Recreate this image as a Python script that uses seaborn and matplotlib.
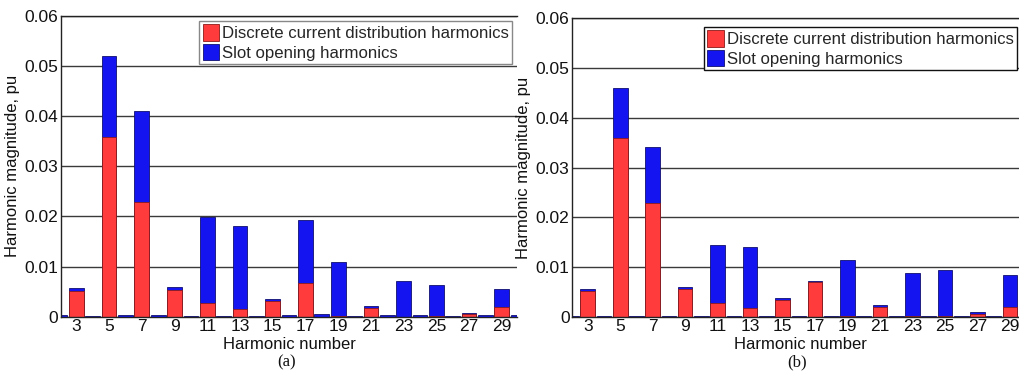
import numpy as np
import pandas as pd
import matplotlib
matplotlib.use("Agg")
import matplotlib.pyplot as plt
import seaborn as sns
from matplotlib.patches import Patch

sns.set_theme(style="white")
plt.rcParams['font.family'] = ['Liberation Sans', 'DejaVu Sans']

harmonics = list(range(2, 31))

# Panel (a): discrete current distribution (red) and slot opening (blue) components
red_a = [0, 0.0052, 0, 0.0359, 0, 0.0228, 0, 0.0054, 0, 0.0027, 0, 0.0015, 0, 0.0031, 0,
         0.0068, 0, 0.0001, 0, 0.0017, 0, 0.0000, 0, 0.0002, 0, 0.0005, 0, 0.0019, 0]
blue_a = [0.0004, 0.0005, 0.0002, 0.0160, 0.0003, 0.0183, 0.0004, 0.0006, 0.0002, 0.0172,
          0.0002, 0.0165, 0.0002, 0.0005, 0.0003, 0.0124, 0.0005, 0.0109, 0.0002, 0.0004,
          0.0003, 0.0072, 0.0003, 0.0061, 0.0002, 0.0003, 0.0003, 0.0036, 0.0003]

# Panel (b)
red_b = [0, 0.0052, 0, 0.0360, 0, 0.0228, 0, 0.0056, 0, 0.0028, 0, 0.0017, 0, 0.0033, 0,
         0.0070, 0, 0.0001, 0, 0.0019, 0, 0.0001, 0, 0.0002, 0, 0.0005, 0, 0.0020, 0]
blue_b = [0.0002, 0.0004, 0.0002, 0.0099, 0.0002, 0.0113, 0.0002, 0.0004, 0.0002, 0.0116,
          0.0002, 0.0124, 0.0002, 0.0004, 0.0002, 0.0002, 0.0002, 0.0114, 0.0002, 0.0004,
          0.0002, 0.0086, 0.0002, 0.0092, 0.0002, 0.0004, 0.0002, 0.0064, 0.0002]

xticks = [3, 5, 7, 9, 11, 13, 15, 17, 19, 21, 23, 25, 27, 29]
yticks = [0, 0.01, 0.02, 0.03, 0.04, 0.05, 0.06]
ytick_labels = ["0", "0.01", "0.02", "0.03", "0.04", "0.05", "0.06"]
legend_labels = ["Discrete current distribution harmonics", "Slot opening harmonics"]

RED = "#ff3b3b"
BLUE = "#1414f0"
RED_EDGE = "#8a1a1a"
BLUE_EDGE = "#101070"

W, H = 1019, 376
fig = plt.figure(figsize=(W / 100, H / 100), dpi=100)

panels = [
    dict(red=red_a, blue=blue_a, rect=[61 / W, 59.3 / H, 456 / W, 301 / H], xlim=(2.06, 29.93),
         leg=(0.303, 0.983), legedge="#888888", cap="(a)", capx=287 / W),
    dict(red=red_b, blue=blue_b, rect=[572.3 / W, 59.3 / H, 456 / W, 298.4 / H], xlim=(2.05, 30.13),
         leg=(0.289, 0.972), legedge="#111111", cap="(b)", capx=797 / W),
]

for p in panels:
    ax = fig.add_axes(p["rect"])
    df = pd.DataFrame({"h": harmonics, "red": p["red"], "blue": p["blue"]})
    df["total"] = df["red"] + df["blue"]
    ax.set_axisbelow(True)
    ax.yaxis.grid(True, color="#3a3a3a", linewidth=1.0)
    ax.xaxis.grid(False)
    sns.barplot(data=df, x="h", y="total", native_scale=True, color=BLUE, saturation=1,
                width=0.9, edgecolor=BLUE_EDGE, linewidth=0.6, ax=ax, errorbar=None)
    sns.barplot(data=df, x="h", y="red", native_scale=True, color=RED, saturation=1,
                width=0.9, edgecolor=RED_EDGE, linewidth=0.6, ax=ax, errorbar=None)
    ax.set_xlim(*p["xlim"])
    ax.set_ylim(0, 0.06)
    ax.set_xticks(xticks)
    ax.set_xticklabels([str(t) for t in xticks])
    ax.set_yticks(yticks)
    ax.set_yticklabels(ytick_labels)
    ax.tick_params(axis="both", direction="in", length=3, labelsize=12.5, colors="#111111",
                   pad=2)
    ax.set_xlabel("Harmonic number", fontsize=12, labelpad=2, color="#111111")
    ax.set_ylabel("Harmonic magnitude, pu", fontsize=12, labelpad=3, color="#111111")
    for s in ["left", "top", "bottom"]:
        ax.spines[s].set_visible(True)
        ax.spines[s].set_color("#222222")
        ax.spines[s].set_linewidth(1.0)
    ax.spines["right"].set_visible(False)
    handles = [Patch(facecolor=RED, edgecolor=RED_EDGE, linewidth=0.6),
               Patch(facecolor=BLUE, edgecolor=BLUE_EDGE, linewidth=0.6)]
    leg = ax.legend(handles, legend_labels, loc="upper left", bbox_to_anchor=p["leg"],
                    borderaxespad=0, fontsize=12.1, frameon=True, fancybox=False,
                    framealpha=1, edgecolor=p["legedge"], handlelength=1.0,
                    handleheight=1.15, handletextpad=0.15, labelspacing=0.15,
                    borderpad=0.2)
    leg.get_frame().set_linewidth(1.0)
    fig.text(p["capx"], 14 / H, p["cap"], ha="center", va="center", fontsize=12,
             family=["Liberation Serif", "DejaVu Serif"], color="#111111")

fig.savefig("out.png", dpi=100)
